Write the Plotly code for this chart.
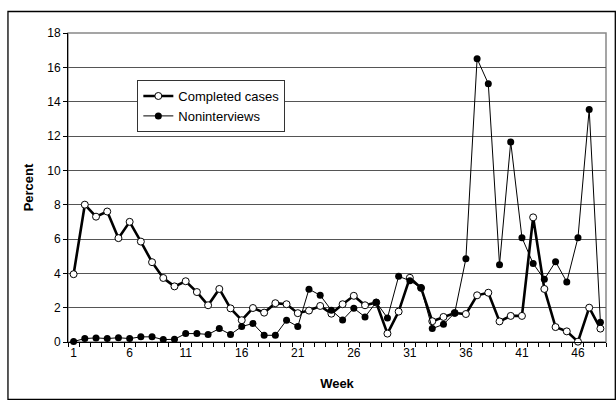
import plotly.graph_objects as go

weeks = list(range(1, 49))

completed = [3.95, 8.0, 7.3, 7.6, 6.05, 7.0, 5.85, 4.65, 3.73, 3.24,
             3.54, 2.91, 2.14, 3.09, 1.96, 1.27, 1.98, 1.71, 2.26, 2.2,
             1.68, 1.83, 2.1, 1.65, 2.2, 2.69, 2.14, 2.3, 0.49, 1.77,
             3.74, 3.15, 1.21, 1.46, 1.69, 1.63, 2.72, 2.87, 1.2, 1.52,
             1.52, 7.26, 3.09, 0.87, 0.62, 0.02, 2.0, 0.78]

noninterviews = [0.03, 0.2, 0.24, 0.2, 0.25, 0.2, 0.3, 0.3, 0.14, 0.16,
                 0.49, 0.49, 0.44, 0.78, 0.44, 0.9, 1.08, 0.39, 0.39, 1.27,
                 0.9, 3.08, 2.72, 1.85, 1.28, 1.97, 1.46, 2.32, 1.4, 3.83,
                 3.57, 3.16, 0.78, 1.03, 1.69, 4.85, 16.5, 15.05, 4.5, 11.65,
                 6.08, 4.57, 3.65, 4.68, 3.5, 6.08, 13.55, 1.15]

x_ticks = [1, 6, 11, 16, 21, 26, 31, 36, 41, 46]
y_ticks = [0, 2, 4, 6, 8, 10, 12, 14, 16, 18]

FONT = "Liberation Sans, Arial, sans-serif"

fig = go.Figure()
fig.add_trace(go.Scatter(
    x=weeks, y=completed, name="Completed cases", mode="lines+markers",
    line=dict(color="black", width=2.6),
    marker=dict(symbol="circle", size=7, color="white",
                line=dict(color="black", width=1)),
    cliponaxis=False,
))
fig.add_trace(go.Scatter(
    x=weeks, y=noninterviews, name="Noninterviews", mode="lines+markers",
    line=dict(color="black", width=1),
    marker=dict(symbol="circle", size=7, color="black",
                line=dict(color="black", width=0)),
    cliponaxis=False,
))

L, R, T, B = 68, 10.3, 33, 58.3
W, H = 616, 400
pw, ph = W - L - R, H - T - B

def px_to_paper_x(p):
    return (p - L) / pw

def px_to_paper_y(p):
    return (H - B - p) / ph

fig.update_layout(
    width=W, height=H,
    margin=dict(l=L, r=R, t=T, b=B, pad=0),
    paper_bgcolor="white", plot_bgcolor="white",
    font=dict(family=FONT, size=12, color="black"),
    showlegend=True,
    legend=dict(
        x=px_to_paper_x(137.3), y=px_to_paper_y(80),
        xanchor="left", yanchor="top",
        bgcolor="white", bordercolor="#333", borderwidth=1,
        font=dict(family=FONT, size=13, color="black"),
        itemwidth=30, tracegroupgap=0,
    ),
    xaxis=dict(
        range=[0.5, 48.5], tickvals=x_ticks, ticktext=[str(v) for v in x_ticks],
        ticks="", showgrid=False, zeroline=False,
        showline=True, linecolor="black", linewidth=1,
        tickfont=dict(size=12),
        minor=dict(tickvals=[w + 0.5 for w in range(0, 49)], ticks="outside",
                   ticklen=4, tickcolor="black", tickwidth=1, showgrid=False),
        title=dict(text="<b>Week</b>", font=dict(size=13), standoff=19),
    ),
    yaxis=dict(
        range=[0, 18], tickvals=y_ticks, ticks="outside", ticklen=4,
        tickcolor="black", showgrid=True, gridcolor="#555", gridwidth=1,
        zeroline=False, showline=True, linecolor="black", linewidth=1,
        tickfont=dict(size=12),
        title=dict(text="<b>Percent</b>", font=dict(size=13), standoff=10),
    ),
    shapes=[
        dict(type="rect", xref="paper", yref="paper", x0=0, x1=1, y0=0, y1=1,
             line=dict(color="#888", width=1.5), layer="below"),
        dict(type="rect", xref="paper", yref="paper",
             x0=px_to_paper_x(8), x1=px_to_paper_x(615),
             y0=px_to_paper_y(399), y1=px_to_paper_y(11.5),
             line=dict(color="black", width=1.3), layer="above"),
    ],
)

fig.write_html(
    "out.html",
    config={"displayModeBar": False},
    post_script="document.body.style.margin='0';document.body.style.overflow='hidden';",
)
